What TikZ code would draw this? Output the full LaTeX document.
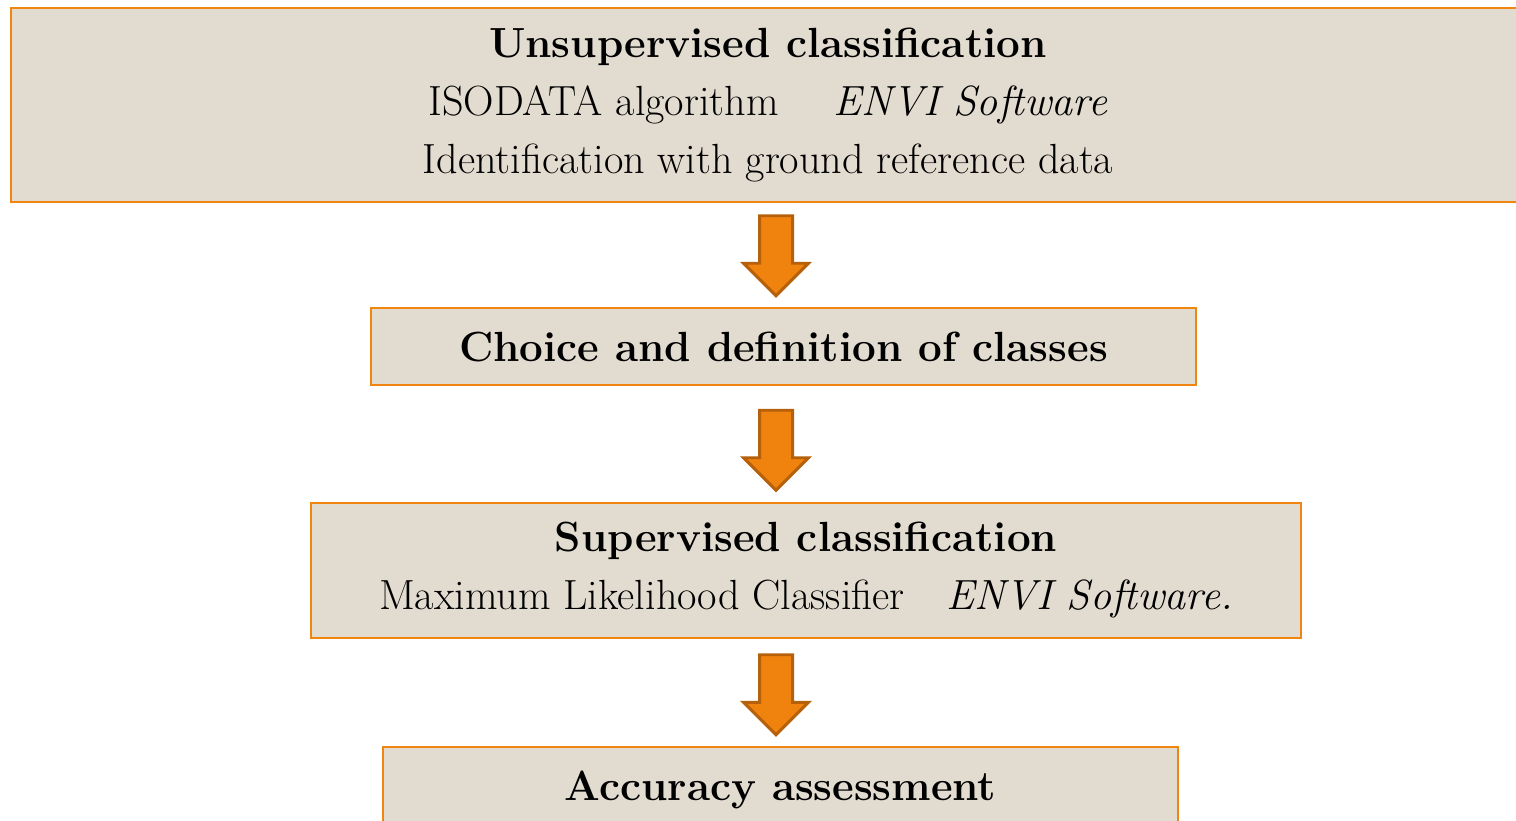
\documentclass[tikz,border=0pt]{standalone}
\usepackage{tikz}
\usetikzlibrary{shapes.arrows}
\definecolor{mybeige}{HTML}{E2DCD0}
\definecolor{myorange}{HTML}{F0850F}
\definecolor{myarrow}{HTML}{F0820E}
\definecolor{myarrowdark}{HTML}{B5600A}

\begin{document}
\begin{tikzpicture}[
    every node/.style={font=\fontsize{24}{33}\selectfont},
    box/.style={draw=myorange, line width=1.1pt, fill=mybeige, align=center,
                inner sep=0pt},
    barrow/.style={single arrow, draw=myarrowdark, fill=myarrow, line width=1.7pt,
                   shape border rotate=270, minimum height=1.6cm,
                   single arrow head extend=0.32cm, inner sep=0.3cm}
  ]
  \useasboundingbox (0,0) rectangle (30.32,-16.4);
  \node[box, minimum width=30.28cm, minimum height=3.88cm] (unsup) at (15.36,-2.1)
    {\textbf{Unsupervised classification}\\
     ISODATA algorithm\quad\ \textit{ENVI Software}\\
     Identification with ground reference data};
  \node[box, minimum width=16.5cm, minimum height=1.54cm] (choice) at (15.67,-6.93)
    {\textbf{Choice and definition of classes}};
  \node[box, minimum width=19.8cm, minimum height=2.7cm] (sup) at (16.12,-11.41)
    {\textbf{Supervised classification}\\
     Maximum Likelihood Classifier\quad\textit{ENVI Software.}};
  \node[box, minimum width=15.9cm, minimum height=1.7cm] (acc) at (15.61,-15.79)
    {\textbf{Accuracy assessment}};
  % block arrows between the steps
  \node[barrow] (a1) at (15.52,-4.95) {};
  \node[barrow] (a2) at (15.52,-8.84) {};
  \node[barrow] (a3) at (15.52,-13.73) {};
\end{tikzpicture}
\end{document}
